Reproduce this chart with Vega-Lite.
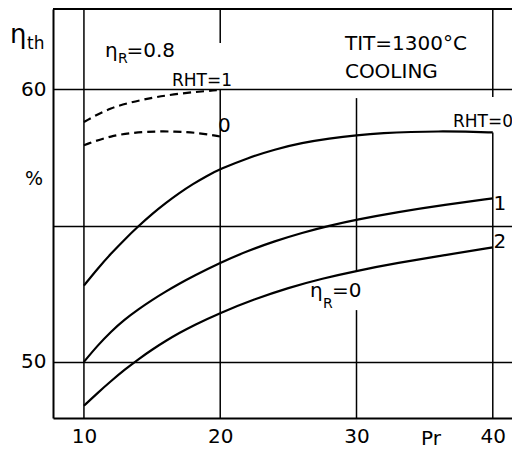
{
  "$schema": "https://vega.github.io/schema/vega-lite/v6.json",
  "width": 459,
  "height": 409,
  "autosize": {"type": "none"},
  "padding": {"left": 53, "top": 9, "right": 0, "bottom": 34},
  "background": "white",
  "config": {
    "view": {"stroke": null},
    "font": "DejaVu Sans",
    "text": {"font": "DejaVu Sans", "color": "black", "align": "left", "baseline": "alphabetic"}
  },
  "datasets": {
    "curves": [
      {"s": "A0", "x": 10, "y": 52.8}, {"s": "A0", "x": 11, "y": 53.42}, {"s": "A0", "x": 12, "y": 53.98}, {"s": "A0", "x": 13, "y": 54.5},
      {"s": "A0", "x": 14, "y": 54.98}, {"s": "A0", "x": 15, "y": 55.43}, {"s": "A0", "x": 16, "y": 55.83}, {"s": "A0", "x": 17, "y": 56.2},
      {"s": "A0", "x": 18, "y": 56.53}, {"s": "A0", "x": 19, "y": 56.82}, {"s": "A0", "x": 20, "y": 57.08}, {"s": "A0", "x": 22, "y": 57.48},
      {"s": "A0", "x": 24, "y": 57.8}, {"s": "A0", "x": 26, "y": 58.04}, {"s": "A0", "x": 28, "y": 58.2}, {"s": "A0", "x": 30, "y": 58.32},
      {"s": "A0", "x": 32, "y": 58.4}, {"s": "A0", "x": 34, "y": 58.44}, {"s": "A0", "x": 36, "y": 58.46}, {"s": "A0", "x": 38, "y": 58.45},
      {"s": "A0", "x": 40, "y": 58.42},
      {"s": "A1", "x": 10, "y": 50.0}, {"s": "A1", "x": 11, "y": 50.6}, {"s": "A1", "x": 12, "y": 51.12}, {"s": "A1", "x": 13, "y": 51.56},
      {"s": "A1", "x": 14, "y": 51.93}, {"s": "A1", "x": 15, "y": 52.27}, {"s": "A1", "x": 16, "y": 52.58}, {"s": "A1", "x": 17, "y": 52.87},
      {"s": "A1", "x": 18, "y": 53.14}, {"s": "A1", "x": 20, "y": 53.64}, {"s": "A1", "x": 22, "y": 54.07}, {"s": "A1", "x": 24, "y": 54.43},
      {"s": "A1", "x": 26, "y": 54.74}, {"s": "A1", "x": 28, "y": 55.0}, {"s": "A1", "x": 30, "y": 55.22}, {"s": "A1", "x": 33, "y": 55.5},
      {"s": "A1", "x": 36.5, "y": 55.77}, {"s": "A1", "x": 40, "y": 56.0},
      {"s": "A2", "x": 10, "y": 48.39}, {"s": "A2", "x": 11, "y": 48.86}, {"s": "A2", "x": 12, "y": 49.3}, {"s": "A2", "x": 13, "y": 49.72},
      {"s": "A2", "x": 14, "y": 50.1}, {"s": "A2", "x": 15, "y": 50.45}, {"s": "A2", "x": 16, "y": 50.77}, {"s": "A2", "x": 17, "y": 51.06},
      {"s": "A2", "x": 18, "y": 51.33}, {"s": "A2", "x": 20, "y": 51.8}, {"s": "A2", "x": 22.5, "y": 52.3}, {"s": "A2", "x": 25, "y": 52.72},
      {"s": "A2", "x": 27.5, "y": 53.06}, {"s": "A2", "x": 30, "y": 53.34}, {"s": "A2", "x": 33, "y": 53.63}, {"s": "A2", "x": 36.5, "y": 53.92},
      {"s": "A2", "x": 40, "y": 54.2}
    ],
    "dashed": [
      {"s": "B1", "x": 10, "y": 58.8}, {"s": "B1", "x": 11.9, "y": 59.34}, {"s": "B1", "x": 14.3, "y": 59.63}, {"s": "B1", "x": 16.8, "y": 59.85}, {"s": "B1", "x": 20, "y": 59.98},
      {"s": "B0", "x": 10, "y": 57.95}, {"s": "B0", "x": 11.9, "y": 58.3}, {"s": "B0", "x": 14.3, "y": 58.46}, {"s": "B0", "x": 16.8, "y": 58.46}, {"s": "B0", "x": 18.5, "y": 58.4}, {"s": "B0", "x": 20, "y": 58.27}
    ],
    "vgrid": [
      {"x": 10, "y": 47.94, "y2": 62.95},
      {"x": 20, "y": 61.7, "y2": 62.95},
      {"x": 20, "y": 47.94, "y2": 60},
      {"x": 30, "y": 53.3, "y2": 59.68},
      {"x": 30, "y": 47.94, "y2": 51.9},
      {"x": 40, "y": 59.72, "y2": 62.95},
      {"x": 40, "y": 47.94, "y2": 58.42}
    ],
    "frame": [
      {"x": 7.73, "x2": 41.41, "y": 62.95}
    ],
    "labels": [
      {"k": "big", "x": 4.58, "y": 61.7, "t": "η"},
      {"k": "s17", "x": 5.82, "y": 61.5, "t": "th"},
      {"k": "m19", "x": 5.68, "y": 56.49, "t": "%"},
      {"k": "m20", "x": 11.55, "y": 61.19, "t": "η"},
      {"k": "s14", "x": 12.5, "y": 60.97, "t": "R"},
      {"k": "m20", "x": 13.12, "y": 61.19, "t": "=0.8"},
      {"k": "s17", "x": 16.46, "y": 60.13, "t": "RHT=1"},
      {"k": "m20", "x": 19.84, "y": 58.44, "t": "0"},
      {"k": "m20", "x": 29.15, "y": 61.45, "t": "TIT=1300°C"},
      {"k": "m20", "x": 29.15, "y": 60.42, "t": "COOLING"},
      {"k": "s17", "x": 37.08, "y": 58.62, "t": "RHT=0"},
      {"k": "m20", "x": 40.05, "y": 55.57, "t": "1"},
      {"k": "m20", "x": 40.05, "y": 54.18, "t": "2"},
      {"k": "m20", "x": 26.59, "y": 52.38, "t": "η"},
      {"k": "s14", "x": 27.54, "y": 51.98, "t": "R"},
      {"k": "m20", "x": 28.2, "y": 52.38, "t": "=0"},
      {"k": "m20", "x": 34.73, "y": 46.95, "t": "Pr"}
    ]
  },
  "encoding": {
    "x": {
      "field": "x", "type": "quantitative",
      "scale": {"domain": [7.73, 41.41], "nice": false, "zero": false},
      "axis": {
        "values": [10, 20, 30, 40], "title": null, "grid": false, "ticks": false,
        "domain": true, "domainColor": "black", "domainWidth": 2,
        "labelFont": "DejaVu Sans", "labelFontSize": 20, "labelColor": "black",
        "labelPadding": 8, "labelFlush": false
      }
    },
    "y": {
      "field": "y", "type": "quantitative",
      "scale": {"domain": [47.94, 62.95], "nice": false, "zero": false},
      "axis": {
        "values": [50, 55, 60], "labelExpr": "datum.value == 55 ? '' : datum.label",
        "title": null, "grid": true, "gridColor": "black", "gridWidth": 1.5, "gridOpacity": 1,
        "ticks": false, "domain": true, "domainColor": "black", "domainWidth": 2,
        "labelFont": "DejaVu Sans", "labelFontSize": 20, "labelColor": "black", "labelPadding": 7
      }
    }
  },
  "layer": [
    {
      "data": {"name": "vgrid"},
      "mark": {"type": "rule", "color": "black", "strokeWidth": 1.5},
      "encoding": {"y2": {"field": "y2"}}
    },
    {
      "data": {"name": "frame"},
      "mark": {"type": "rule", "color": "black", "strokeWidth": 2},
      "encoding": {"x2": {"field": "x2"}}
    },
    {
      "data": {"name": "curves"},
      "mark": {"type": "line", "color": "black", "strokeWidth": 2.2, "interpolate": "basis"},
      "encoding": {"detail": {"field": "s"}}
    },
    {
      "data": {"name": "dashed"},
      "mark": {"type": "line", "color": "black", "strokeWidth": 2.2, "strokeDash": [8, 5], "interpolate": "basis"},
      "encoding": {"detail": {"field": "s"}}
    },
    {
      "data": {"name": "labels"},
      "transform": [{"filter": "datum.k == 'm20'"}],
      "mark": {"type": "text", "fontSize": 20},
      "encoding": {"text": {"field": "t"}}
    },
    {
      "data": {"name": "labels"},
      "transform": [{"filter": "datum.k == 'm19'"}],
      "mark": {"type": "text", "fontSize": 19},
      "encoding": {"text": {"field": "t"}}
    },
    {
      "data": {"name": "labels"},
      "transform": [{"filter": "datum.k == 's17'"}],
      "mark": {"type": "text", "fontSize": 17},
      "encoding": {"text": {"field": "t"}}
    },
    {
      "data": {"name": "labels"},
      "transform": [{"filter": "datum.k == 's14'"}],
      "mark": {"type": "text", "fontSize": 14},
      "encoding": {"text": {"field": "t"}}
    },
    {
      "data": {"name": "labels"},
      "transform": [{"filter": "datum.k == 'big'"}],
      "mark": {"type": "text", "fontSize": 26},
      "encoding": {"text": {"field": "t"}}
    }
  ]
}
